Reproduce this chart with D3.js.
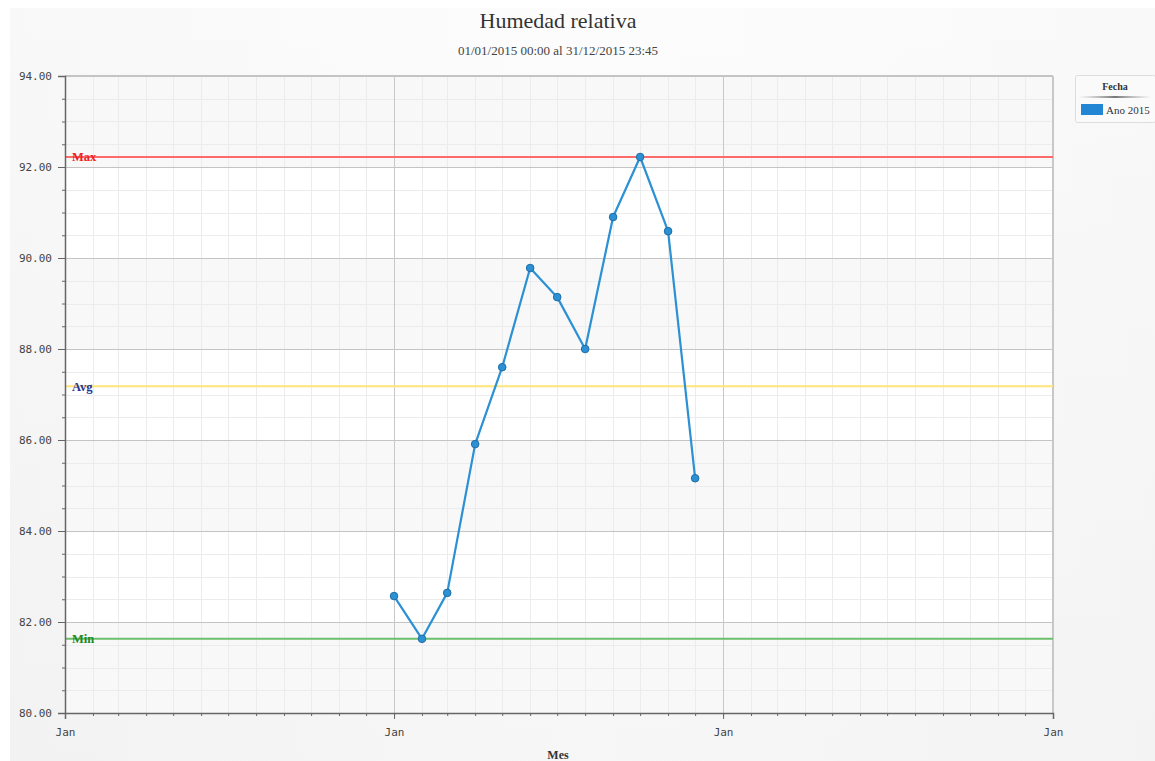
<!DOCTYPE html>
<html><head><meta charset="utf-8">
<script src="https://cdn.jsdelivr.net/npm/d3@7/dist/d3.min.js"></script>
<style>
body{margin:0;background:#fff;}
</style></head>
<body><svg id="c" width="1155" height="761"></svg>
<script>
const months = ["2015-01-01","2015-02-01","2015-03-01","2015-04-01","2015-05-01","2015-06-01","2015-07-01","2015-08-01","2015-09-01","2015-10-01","2015-11-01","2015-12-01"];
const humidity = [82.57,81.63,82.64,85.91,87.60,89.78,89.14,88.00,90.90,92.22,90.59,85.16];
const refValues = [92.22, 87.18, 81.63];
const refLabels = ["Max","Avg","Min"];
const refColors = ["#ff6b6b","#ffe47a","#6cbf6c"];
const refTextColors = ["#ee2222","#22339a","#228822"];
const yTicks = [80,82,84,86,88,90,92,94];
const xDomain = ["2014-01-01","2017-01-01"];
const title = "Humedad relativa";
const subtitle = "01/01/2015 00:00 al 31/12/2015 23:45";
const seriesName = "Ano 2015";
const legendTitle = "Fecha";
const xTitle = "Mes";

const svg = d3.select("#c");
const W=1155,H=761;
const m={l:65,r:102,t:76,b:48};
const pw=W-m.l-m.r, ph=H-m.t-m.b;
const parse=d3.timeParse("%Y-%m-%d");
const data = months.map((d,i)=>({date:parse(d),v:humidity[i]}));

const defs=svg.append("defs");
const bg=defs.append("linearGradient").attr("id","bg").attr("x1",0).attr("y1",0).attr("x2",0).attr("y2",1);
bg.append("stop").attr("offset","0%").attr("stop-color","#fdfdfd");
bg.append("stop").attr("offset","100%").attr("stop-color","#f3f3f3");
const bgh=defs.append("linearGradient").attr("id","bgh").attr("x1",0).attr("y1",0).attr("x2",1).attr("y2",0);
bgh.append("stop").attr("offset","0%").attr("stop-color","#f1f1f1");
bgh.append("stop").attr("offset","50%").attr("stop-color","#fcfcfc");
bgh.append("stop").attr("offset","100%").attr("stop-color","#f3f3f3");
svg.append("rect").attr("x",10).attr("y",8).attr("width",W-10).attr("height",H-8).attr("fill","url(#bgh)");
svg.append("rect").attr("x",10).attr("y",8).attr("width",W-10).attr("height",H-8).attr("fill","url(#bg)").attr("opacity",0.6);

const x=d3.scaleTime().domain(xDomain.map(parse)).range([m.l,m.l+pw]);
const y=d3.scaleLinear().domain([80,94]).range([m.t+ph,m.t]);

svg.append("rect").attr("x",m.l).attr("y",m.t).attr("width",pw).attr("height",ph).attr("fill","#fff");
for(let i=0;i<yTicks.length-1;i+=2){
  svg.append("rect").attr("x",m.l).attr("width",pw)
    .attr("y",y(yTicks[i+1])).attr("height",y(yTicks[i])-y(yTicks[i+1])).attr("fill","#f8f8f8");
}
const g=svg.append("g");
const yMinor=d3.range(80,94.01,0.5);
g.selectAll(".ym").data(yMinor).join("line").attr("x1",m.l).attr("x2",m.l+pw)
  .attr("y1",d=>Math.round(y(d))+0.5).attr("y2",d=>Math.round(y(d))+0.5).attr("stroke","#ececec");
const xMinor=x.ticks(d3.timeMonth.every(1));
g.selectAll(".xm").data(xMinor).join("line").attr("y1",m.t).attr("y2",m.t+ph)
  .attr("x1",d=>Math.round(x(d))+0.5).attr("x2",d=>Math.round(x(d))+0.5).attr("stroke","#ececec");
g.selectAll(".yM").data(yTicks).join("line").attr("x1",m.l).attr("x2",m.l+pw)
  .attr("y1",d=>Math.round(y(d))+0.5).attr("y2",d=>Math.round(y(d))+0.5).attr("stroke","#c4c4c4");
const xMajor=x.ticks(d3.timeYear.every(1));
g.selectAll(".xM").data(xMajor).join("line").attr("y1",m.t).attr("y2",m.t+ph)
  .attr("x1",d=>Math.round(x(d))+0.5).attr("x2",d=>Math.round(x(d))+0.5).attr("stroke","#c8c8c8");
svg.append("line").attr("x1",m.l).attr("x2",m.l+pw).attr("y1",m.t).attr("y2",m.t).attr("stroke","#c4c4c4").attr("stroke-width",2);
svg.append("line").attr("x1",m.l+pw).attr("x2",m.l+pw).attr("y1",m.t).attr("y2",m.t+ph).attr("stroke","#c8c8c8").attr("stroke-width",2);

refValues.forEach((v,i)=>{
  svg.append("line").attr("x1",m.l).attr("x2",m.l+pw).attr("y1",y(v)).attr("y2",y(v))
    .attr("stroke",refColors[i]).attr("stroke-width",2);
  svg.append("text").attr("x",m.l+7).attr("y",y(v)+4.5).text(refLabels[i])
    .attr("font-family","Liberation Serif, serif").attr("font-weight","bold").attr("font-size",12.5)
    .attr("fill",refTextColors[i]);
});

const font="DejaVu Sans Mono, monospace";
const yAxis=svg.append("g").attr("transform",`translate(${m.l},0)`)
  .call(d3.axisLeft(y).tickValues(yTicks).tickFormat(d3.format(".2f")).tickSize(7).tickPadding(6));
const yMin=svg.append("g").attr("transform",`translate(${m.l},0)`)
  .call(d3.axisLeft(y).tickValues(yMinor.filter(d=>d%2!==0)).tickFormat("").tickSize(3));
yMin.select(".domain").remove();
const xAxis=svg.append("g").attr("transform",`translate(0,${m.t+ph})`)
  .call(d3.axisBottom(x).ticks(d3.timeYear.every(1)).tickFormat(d3.timeFormat("%b")).tickSize(6).tickPadding(9));
const xMin=svg.append("g").attr("transform",`translate(0,${m.t+ph})`)
  .call(d3.axisBottom(x).tickValues(xMinor).tickFormat("").tickSize(3));
xMin.select(".domain").remove();
[yAxis,xAxis,yMin,xMin].forEach(a=>{
  a.selectAll("path,line").attr("stroke","#666");
  a.selectAll("text").attr("font-family",font).attr("font-size",11).attr("fill","#444");
});
yAxis.select(".domain").attr("stroke","#666").attr("stroke-width",1.5);
xAxis.select(".domain").attr("stroke","#666").attr("stroke-width",1.5);

const line=d3.line().x(d=>x(d.date)).y(d=>y(d.v));
svg.append("path").datum(data).attr("d",line).attr("fill","none")
  .attr("stroke","#2b90d4").attr("stroke-width",2.2).attr("stroke-linejoin","round");
svg.selectAll(".pt").data(data).join("circle").attr("cx",d=>x(d.date)).attr("cy",d=>y(d.v))
  .attr("r",3.8).attr("fill","#2b90d4").attr("stroke","#1e6ea6").attr("stroke-width",1);

svg.append("text").attr("x",558).attr("y",28).attr("text-anchor","middle").text(title)
  .attr("font-family","Liberation Serif, serif").attr("font-size",22).attr("fill","#333");
svg.append("text").attr("x",558).attr("y",55).attr("text-anchor","middle").text(subtitle)
  .attr("font-family","Liberation Serif, serif").attr("font-size",13).attr("fill","#444");
svg.append("text").attr("x",558).attr("y",759).attr("text-anchor","middle").text(xTitle)
  .attr("font-family","Liberation Serif, serif").attr("font-weight","bold").attr("font-size",12).attr("fill","#333");

const lg=svg.append("g").attr("transform","translate(1075,75)");
lg.append("rect").attr("x",0.5).attr("y",0.5).attr("width",80).attr("height",47).attr("fill","#fafafa").attr("stroke","#ddd").attr("rx",2);
lg.append("text").attr("x",40).attr("y",15).attr("text-anchor","middle").text(legendTitle)
  .attr("font-family","Liberation Serif, serif").attr("font-weight","bold").attr("font-size",10).attr("fill","#333");
const sg=defs.append("linearGradient").attr("id","sep");
sg.append("stop").attr("offset","0%").attr("stop-color","#999").attr("stop-opacity",0);
sg.append("stop").attr("offset","50%").attr("stop-color","#777");
sg.append("stop").attr("offset","100%").attr("stop-color","#999").attr("stop-opacity",0);
lg.append("rect").attr("x",4).attr("y",21).attr("width",72).attr("height",2).attr("fill","url(#sep)");
lg.append("rect").attr("x",6).attr("y",29).attr("width",22).attr("height",11).attr("fill","#2386d4");
lg.append("text").attr("x",31).attr("y",38.5).text(seriesName)
  .attr("font-family","Liberation Serif, serif").attr("font-size",11).attr("fill","#333");
</script></body></html>
